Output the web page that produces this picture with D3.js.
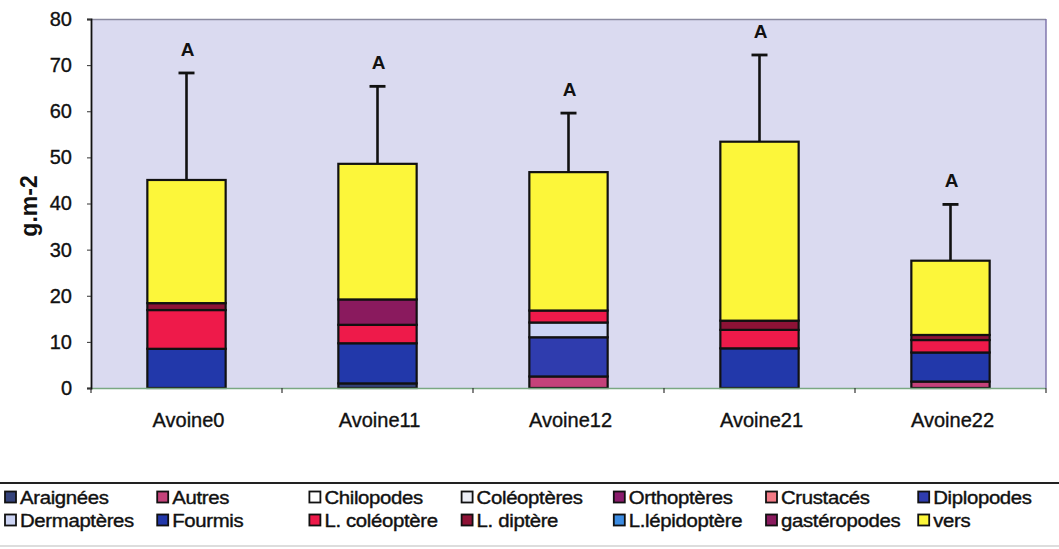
<!DOCTYPE html>
<html>
<head>
<meta charset="utf-8">
<script src="https://cdn.jsdelivr.net/npm/d3@7/dist/d3.min.js"></script>
<style>
  html, body { margin: 0; padding: 0; background: #ffffff; }
  svg { display: block; }
  text { font-family: "Liberation Sans", Arial, sans-serif; }
</style>
</head>
<body>
<svg id="chart" width="1059" height="549"></svg>
<script>
// ---- Data ----
const categories = ["Avoine0", "Avoine11", "Avoine12", "Avoine21", "Avoine22"];
const seriesNames = ["Araignées", "Autres", "Chilopodes", "Coléoptères", "Orthoptères", "Crustacés", "Diplopodes",
                     "Dermaptères", "Fourmis", "L. coléoptère", "L. diptère", "L.lépidoptère", "gastéropodes", "vers"];
const araignees     = [0, 1.0, 0, 0, 0];
const autres        = [0, 0, 2.5, 0, 1.4];
const chilopodes    = [0, 0, 0, 0, 0];
const coleopteres   = [0, 0, 0, 0, 0];
const orthopteres   = [0, 0, 0, 0, 0];
const crustaces     = [0, 0, 0, 0, 0];
const diplopodes    = [0, 0, 8.5, 0, 0];
const dermapteres   = [0, 0, 3.2, 0, 0];
const fourmis       = [8.5, 8.7, 0, 8.6, 6.3];
const lColeoptere   = [8.4, 4.0, 2.6, 4.0, 2.7];
const lDiptere      = [1.5, 0, 0, 2.0, 1.1];
const lLepidoptere  = [0, 0, 0, 0, 0];
const gasteropodes  = [0, 5.5, 0, 0, 0];
const vers          = [26.7, 29.4, 30.0, 38.8, 16.1];
const errorPlus     = [23.2, 16.8, 12.8, 18.8, 12.2];
const groupLetters  = ["A", "A", "A", "A", "A"];
const yTicks        = [0, 10, 20, 30, 40, 50, 60, 70, 80];

const seriesValues = [araignees, autres, chilopodes, coleopteres, orthopteres, crustaces, diplopodes,
                      dermapteres, fourmis, lColeoptere, lDiptere, lLepidoptere, gasteropodes, vers];
const colors = ["#34427a", "#c4427a", "#ffffff", "#eceef6", "#8a1c6c", "#f27a86", "#2f3cae",
                "#ccd4f4", "#2238aa", "#ee1a4a", "#8e1236", "#3c8ce2", "#8a1a5e", "#fcf63a"];

// ---- Layout ----
const svg = d3.select("#chart");
const plot = { left: 91, right: 1046, top: 19, bottom: 388 };

const x = d3.scaleBand().domain(categories).range([plot.left, plot.right]).paddingInner(0).paddingOuter(0);
const y = d3.scaleLinear().domain([0, 80]).range([plot.bottom, plot.top]);
const barW = x.bandwidth() * 0.41;

// plot background
svg.append("rect")
  .attr("x", plot.left).attr("y", plot.top)
  .attr("width", plot.right - plot.left).attr("height", plot.bottom - plot.top)
  .attr("fill", "#dadaf0");
// top & right border
svg.append("line").attr("x1", plot.left).attr("x2", plot.right).attr("y1", plot.top + 0.5).attr("y2", plot.top + 0.5)
  .attr("stroke", "#8a8aa0").attr("stroke-width", 1.4);
svg.append("line").attr("x1", plot.right).attr("x2", plot.right).attr("y1", plot.top).attr("y2", plot.bottom)
  .attr("stroke", "#7a70a8").attr("stroke-width", 1.4);

// stacked data
const table = categories.map((c, i) => {
  const row = { cat: c };
  seriesNames.forEach((s, j) => row[s] = seriesValues[j][i]);
  return row;
});
const stack = d3.stack().keys(seriesNames)(table);

const gBars = svg.append("g");
stack.forEach((layer, j) => {
  gBars.selectAll(null)
    .data(layer.filter(d => d[1] - d[0] > 0))
    .join("rect")
    .attr("x", d => x(d.data.cat) + (x.bandwidth() - barW) / 2)
    .attr("y", d => y(d[1]))
    .attr("width", barW)
    .attr("height", d => y(d[0]) - y(d[1]))
    .attr("fill", colors[j])
    .attr("stroke", "#111")
    .attr("stroke-width", 2.2);
});

// totals + error bars
const totals = categories.map((c, i) => d3.sum(seriesValues, s => s[i]));
const gErr = svg.append("g");
categories.forEach((c, i) => {
  const cx = x(c) + x.bandwidth() / 2;
  const top = totals[i] + errorPlus[i];
  gErr.append("line").attr("x1", cx).attr("x2", cx).attr("y1", y(totals[i])).attr("y2", y(top))
    .attr("stroke", "#111").attr("stroke-width", 2.6);
  gErr.append("line").attr("x1", cx - 8).attr("x2", cx + 8).attr("y1", y(top)).attr("y2", y(top))
    .attr("stroke", "#111").attr("stroke-width", 2.8);
  gErr.append("text").attr("x", cx + 1).attr("y", y(top) - 17)
    .attr("text-anchor", "middle").attr("font-size", 19).attr("font-weight", "bold")
    .attr("fill", "#111").text(groupLetters[i]);
});

// baseline (x axis)
svg.append("line").attr("x1", plot.left).attr("x2", plot.right).attr("y1", plot.bottom + 0.5).attr("y2", plot.bottom + 0.5)
  .attr("stroke", "#7aa882").attr("stroke-width", 1.6);
// x ticks between categories
const xTickPos = categories.map(c => x(c)).concat([plot.right]);
svg.selectAll(null).data(xTickPos).join("line")
  .attr("x1", d => d).attr("x2", d => d).attr("y1", plot.bottom).attr("y2", plot.bottom + 5)
  .attr("stroke", "#333").attr("stroke-width", 1.2);
// x labels
svg.selectAll(null).data(categories).join("text")
  .attr("x", d => x(d) + x.bandwidth() / 2 + 2)
  .attr("y", 427)
  .attr("text-anchor", "middle").attr("font-size", 20).attr("fill", "#111")
  .attr("stroke", "#111").attr("stroke-width", 0.35)
  .text(d => d);

// y axis
const yAxis = d3.axisLeft(y).tickValues(yTicks).tickSize(4).tickPadding(15).tickFormat(d3.format("d"));
const gy = svg.append("g").attr("transform", `translate(${plot.left},0)`).call(yAxis);
gy.select(".domain").attr("stroke", "#111").attr("stroke-width", 1.8);
gy.selectAll(".tick line").attr("stroke", "#333");
gy.selectAll(".tick text").attr("font-size", 20).attr("fill", "#111")
  .attr("stroke", "#111").attr("stroke-width", 0.35)
  .attr("font-family", "\"Liberation Sans\", Arial, sans-serif");

// y title
svg.append("text")
  .attr("transform", "translate(37,206) rotate(-90)")
  .attr("text-anchor", "middle").attr("font-size", 23).attr("font-weight", "bold").attr("fill", "#111")
  .text("g.m-2");

// ---- Legend ----
svg.append("line").attr("x1", 0).attr("x2", 1059).attr("y1", 483).attr("y2", 483)
  .attr("stroke", "#222").attr("stroke-width", 1.8);
svg.append("line").attr("x1", 0).attr("x2", 1059).attr("y1", 546).attr("y2", 546)
  .attr("stroke", "#bbb").attr("stroke-width", 1);

const legendCols = 7;
const gLeg = svg.append("g");
seriesNames.forEach((s, j) => {
  const col = j % legendCols, row = Math.floor(j / legendCols);
  const lx = 5 + col * 152.2, ly = 497 + row * 23;
  gLeg.append("rect").attr("x", lx).attr("y", ly - 5.5).attr("width", 11).attr("height", 11)
    .attr("fill", colors[j]).attr("stroke", "#111").attr("stroke-width", 1.8);
  gLeg.append("text")
    .attr("transform", `translate(${lx + 15},${ly + 6.5}) scale(1.1,1)`)
    .attr("font-size", 18.5).attr("fill", "#111").attr("stroke", "#111").attr("stroke-width", 0.4)
    .attr("letter-spacing", -0.3)
    .text(s);
});
</script>
</body>
</html>
